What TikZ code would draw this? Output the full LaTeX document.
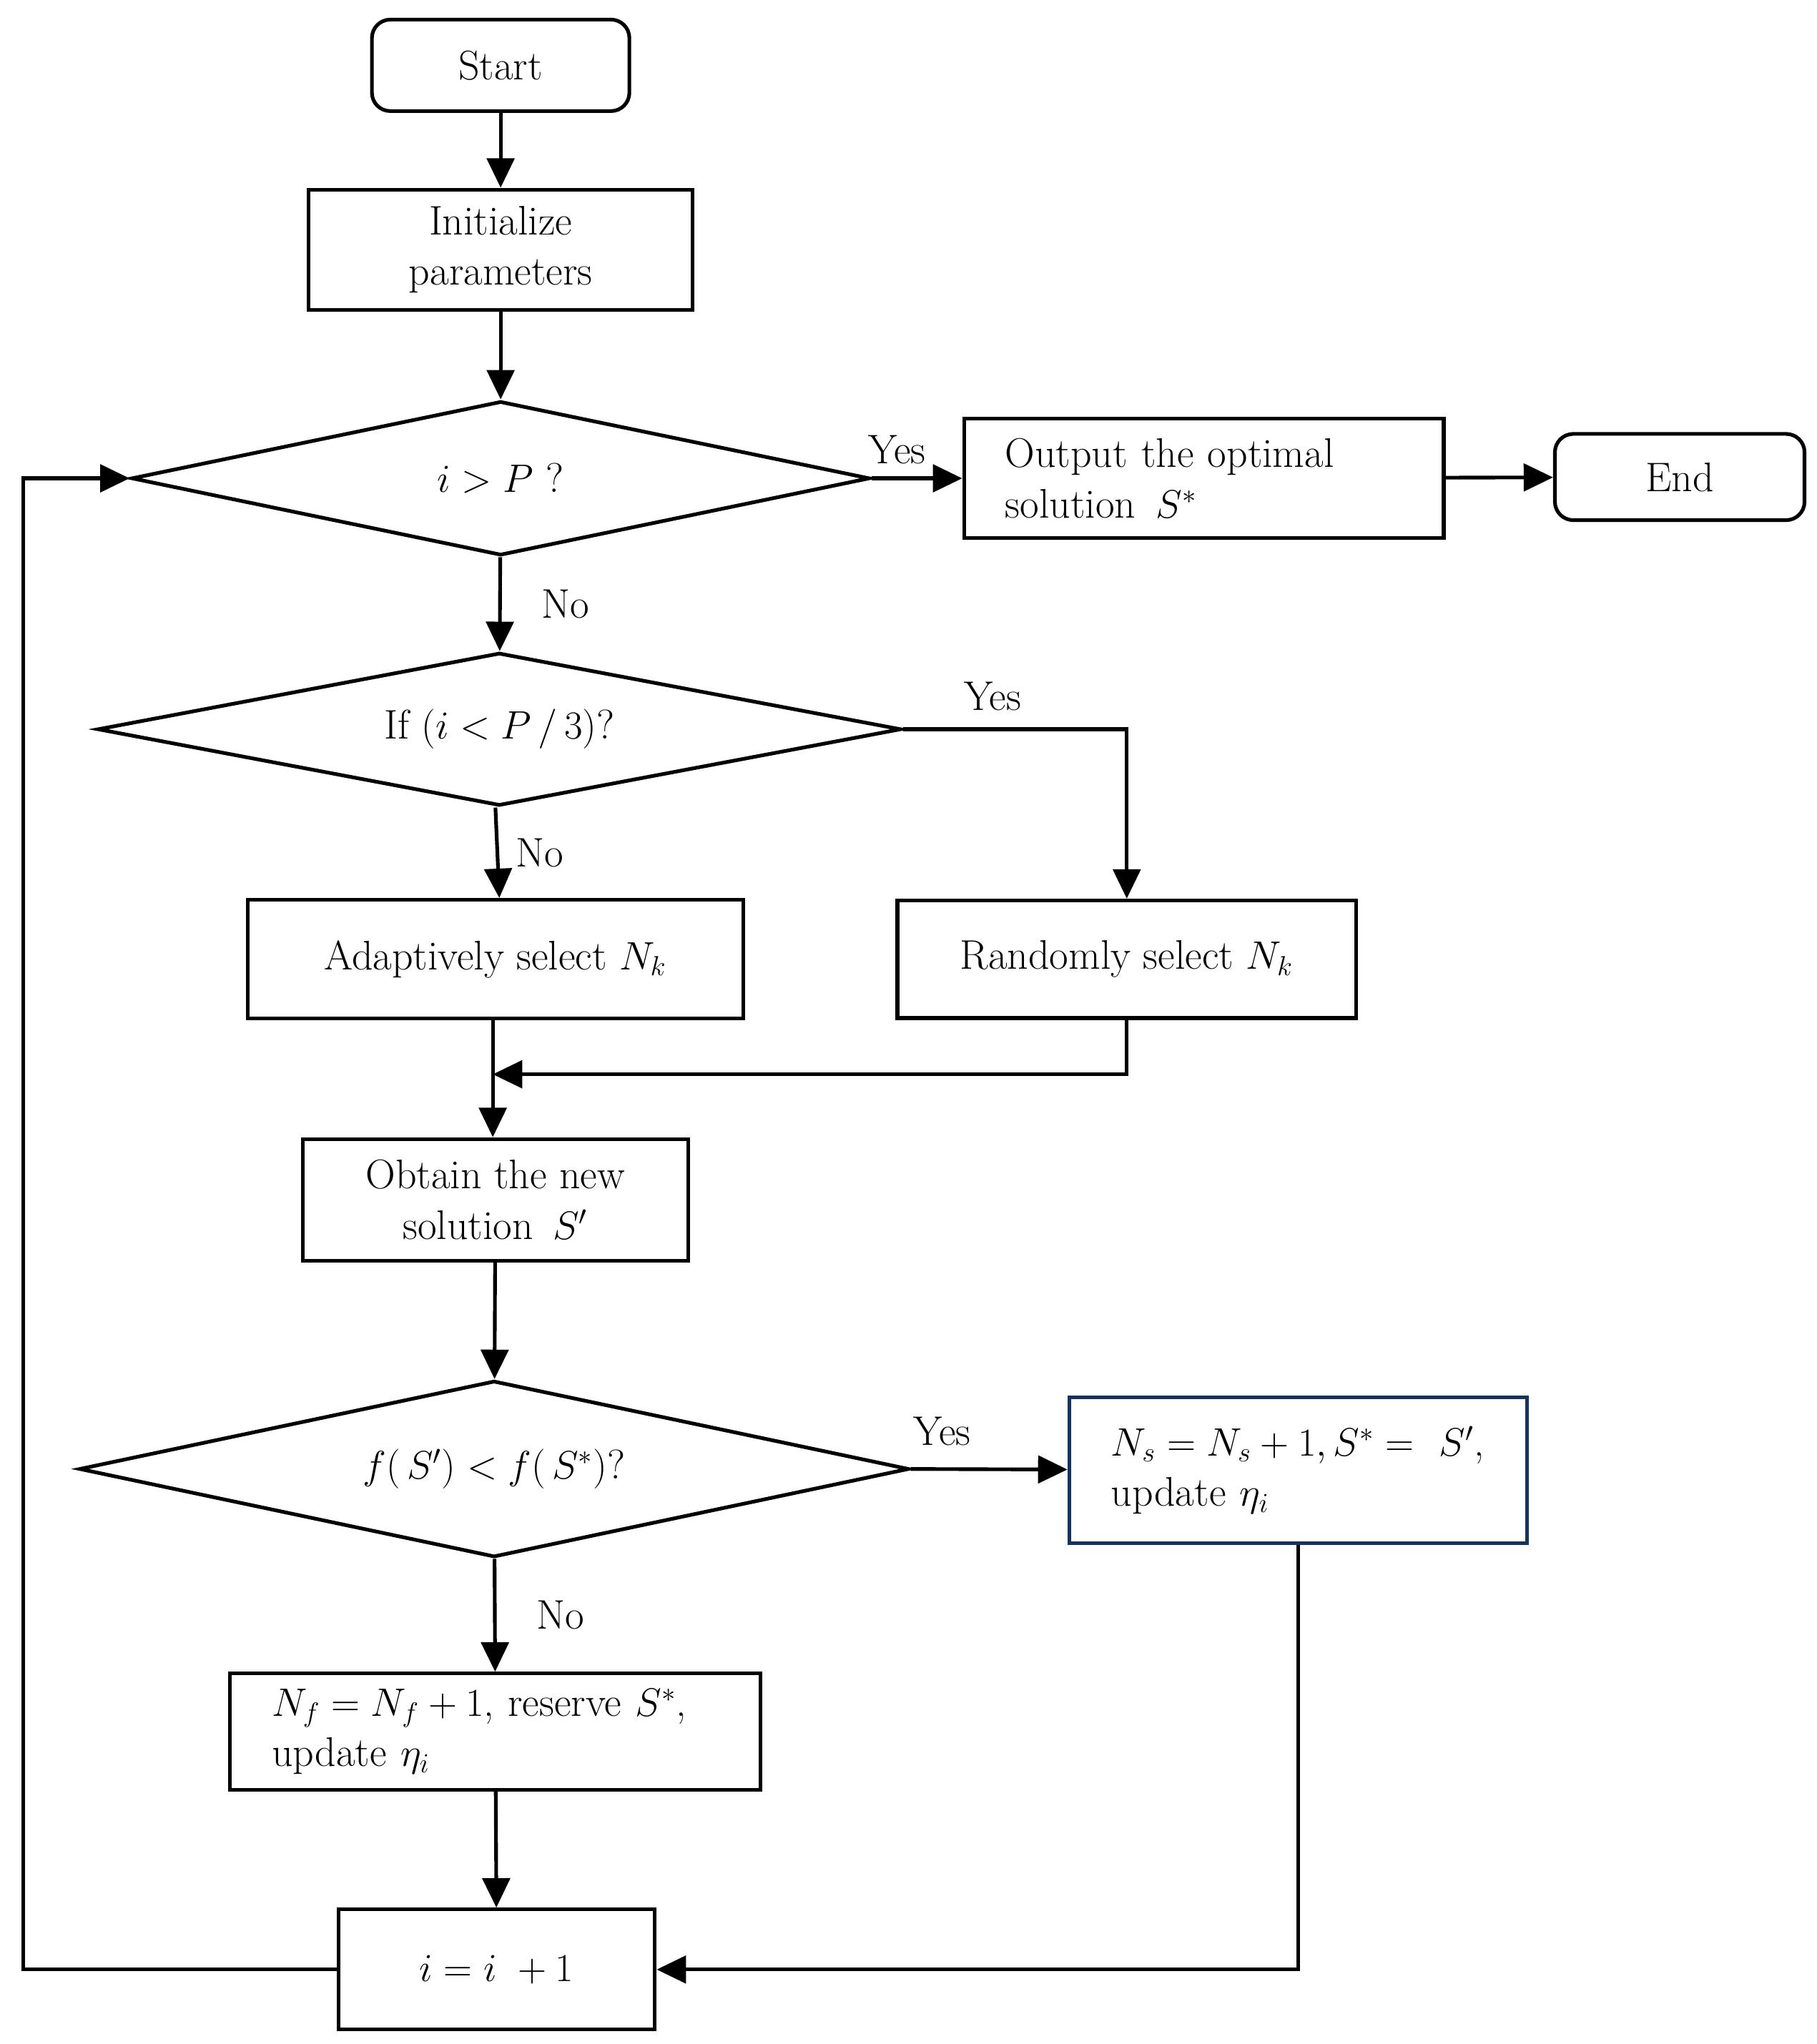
\documentclass[tikz,border=0pt]{standalone}
\usepackage{amsmath,amssymb}
\usepackage{xcolor}
\usetikzlibrary{arrows.meta,calc,positioning,shapes.geometric}
\definecolor{boxnavy}{RGB}{20,50,100}

\begin{document}
\begin{tikzpicture}[x=0.02cm,y=-0.02cm,
  block/.style={draw, line width=1.6pt, align=center, font=\fontsize{18}{22}\selectfont, inner sep=0pt},
  term/.style={block, rounded corners=8pt},
  dec/.style={draw, diamond, line width=1.6pt, inner sep=0pt, font=\fontsize{18}{22}\selectfont},
  arr/.style={-{Triangle[length=0.45cm,width=0.42cm]}, line width=1.6pt},
  lab/.style={font=\fontsize{18}{22}\selectfont}
]
  \useasboundingbox (0,0) rectangle (1390,1564);

  % main column
  \node[term, minimum width=3.94cm, minimum height=1.4cm] (start) at (383,50) {Start};
  \node[block, minimum width=5.88cm, minimum height=1.84cm] (init) at (383,191) {Initialize\\parameters};
  \node[dec, aspect=4.8, minimum width=11.3cm, minimum height=2.36cm] (cond1) at (383,366) {$i > P$ ?};
  \node[block, minimum width=7.34cm, minimum height=1.82cm, text width=6.08cm, align=left] (out) at (921,366)
    {Output the optimal\\solution \,$S^*$};
  \node[term, minimum width=3.82cm, minimum height=1.32cm] (end) at (1285,365) {End};

  \node[dec, aspect=5.26, minimum width=12.3cm, minimum height=2.34cm] (cond2) at (382,558) {If $(i < P\,/\,3)$?};
  \node[block, minimum width=7.58cm, minimum height=1.82cm] (adapt) at (379,734) {Adaptively select $N_k$};
  \node[block, minimum width=7.02cm, minimum height=1.8cm] (rand) at (862,734) {Randomly select $N_k$};
  \coordinate (merge) at (377,822);

  \node[block, minimum width=5.9cm, minimum height=1.86cm] (obtain) at (379,918) {Obtain the new\\solution \,$S'$};
  \node[dec, aspect=4.7, minimum width=12.7cm, minimum height=2.7cm] (cond3) at (378,1124) {$f(\,S') < f(\,S^*)$?};
  \node[block, draw=boxnavy, minimum width=7cm, minimum height=2.24cm, text width=5.72cm, align=left] (succ) at (993,1125)
    {$N_s = N_s + 1, S^* =\ S'$,\\update $\eta_i$};
  \node[block, minimum width=8.12cm, minimum height=1.78cm, text width=6.84cm, align=left] (fail) at (379,1325)
    {$N_f = N_f + 1$, reserve $S^*$,\\update $\eta_i$};
  \node[block, minimum width=4.84cm, minimum height=1.84cm] (incr) at (380,1507) {$i = i\ + 1$};

  % connectors
  \draw[arr] (start) -- (init);
  \draw[arr] (init) -- (cond1);
  \draw[arr] (cond1) -- node[lab, above left=2pt and 0pt, pos=0.7]{Yes} (out);
  \draw[arr] (out) -- (end);
  \draw[arr] (cond1) -- node[lab, right=14pt]{No} (cond2);
  \draw[arr] (cond2.east) -| node[lab, pos=0.2, above=4pt]{Yes} (rand.north);
  \draw[arr] (cond2.south -| adapt.north) -- node[lab, right=4pt]{No} (adapt.north -| cond2.south);
  \draw[line width=1.6pt] (adapt.south -| merge) -- (merge);
  \draw[arr] (rand.south) |- (merge);
  \draw[arr] (merge) -- (obtain.north -| merge);
  \draw[arr] (obtain) -- (cond3);
  \draw[arr] (cond3.east) -- node[lab, above=6pt, pos=0.2]{Yes} (succ);
  \draw[arr] (cond3) -- node[lab, right=14pt]{No} (fail);
  \draw[arr] (fail) -- (incr);
  \draw[arr] (succ.south) |- (incr.east);
  \coordinate (loop) at (18,1507);
  \draw[arr] (incr.west) -- (loop) |- (cond1.west);
\end{tikzpicture}
\end{document}
